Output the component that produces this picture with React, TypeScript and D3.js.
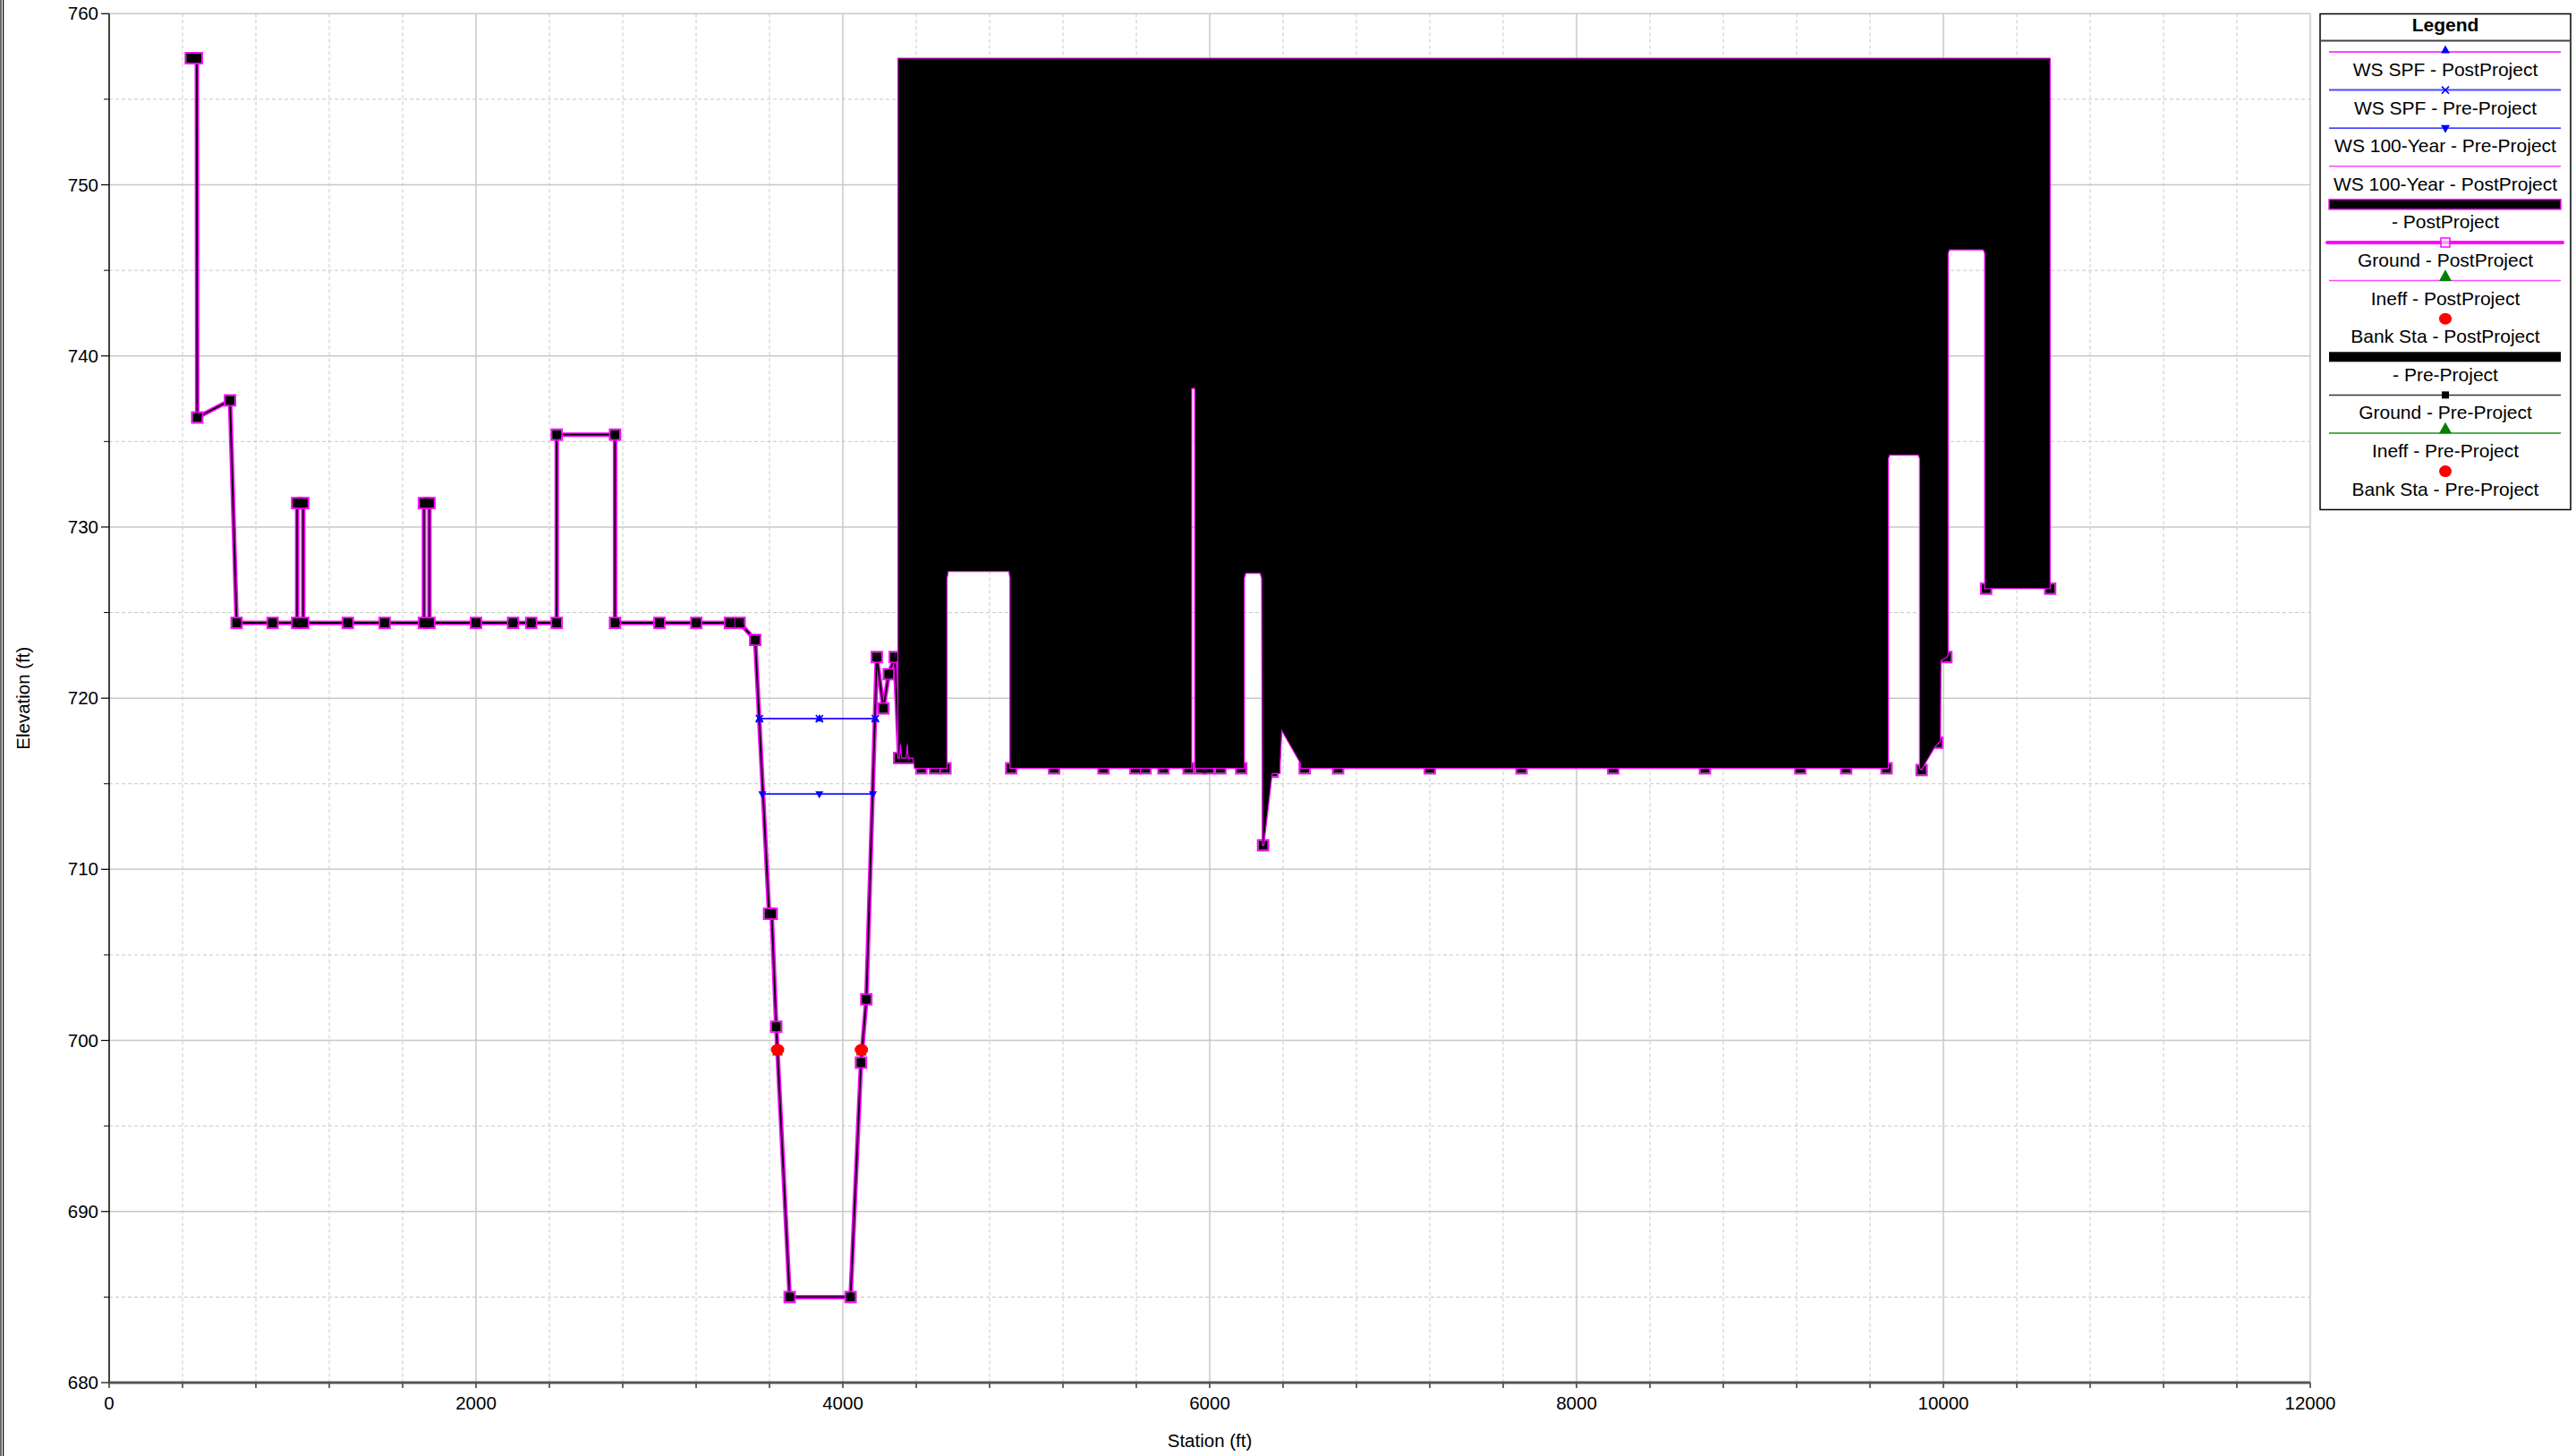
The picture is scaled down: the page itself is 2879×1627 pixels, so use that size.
import React from 'react';
import * as d3 from 'd3';

const W = 2879;
const H = 1627;

const stationTicks = [0, 2000, 4000, 6000, 8000, 10000, 12000];
const elevTicks = [680, 690, 700, 710, 720, 730, 740, 750, 760];

// Ground profile (shared by Pre- and Post-Project)
const groundSta = [445, 478, 480, 659, 695, 891, 1025, 1025, 1058, 1058, 1301, 1502, 1716, 1716, 1746, 1746, 2000, 2202, 2301, 2440, 2440, 2758, 2758, 3000, 3201, 3384, 3437, 3522, 3598, 3612, 3637, 3710, 4042, 4099, 4128, 4185, 4221, 4250, 4283, 4307, 4340, 4379, 4428, 4502, 4559, 4918, 5152, 5421, 5595, 5650, 5748, 5885, 5950, 5995, 6058, 6172, 6291, 6343, 6518, 6700, 7200, 7700, 8200, 8700, 9220, 9470, 9690, 9881, 9967, 10016, 10233, 10582];
const groundElev = [757.4, 757.4, 736.4, 737.4, 724.4, 724.4, 724.4, 731.4, 731.4, 724.4, 724.4, 724.4, 724.4, 731.4, 731.4, 724.4, 724.4, 724.4, 724.4, 724.4, 735.4, 735.4, 724.4, 724.4, 724.4, 724.4, 724.4, 723.4, 707.4, 707.4, 700.8, 685.0, 685.0, 698.7, 702.4, 722.4, 719.4, 721.4, 722.4, 716.5, 716.5, 716.5, 715.9, 715.9, 715.9, 715.9, 715.9, 715.9, 715.9, 715.9, 715.9, 715.9, 715.9, 715.9, 715.9, 715.9, 711.4, 715.7, 715.9, 715.9, 715.9, 715.9, 715.9, 715.9, 715.9, 715.9, 715.9, 715.8, 717.4, 722.4, 726.4, 726.4];

// Blocked area (black fill), bottom outline
const blockTop = 757.4;
const blockSta = [4300, 4308, 4314, 4320, 4345, 4351, 4357, 4382, 4390, 4568, 4568, 4575, 4905, 4911, 4911, 5902, 5902, 5918, 5918, 6189, 6189, 6197, 6275, 6283, 6287, 6295, 6341, 6384, 6384, 6393, 6494, 6494, 9700, 9700, 9707, 9863, 9870, 9870, 9881, 9902, 9951, 9984, 9987, 10020, 10026, 10026, 10033, 10217, 10225, 10225, 10582];
const blockElev = [716.5, 716.5, 717.3, 716.5, 716.5, 717.3, 716.5, 716.5, 715.9, 715.9, 727.0, 727.4, 727.4, 727.0, 715.9, 715.9, 738.1, 738.1, 715.9, 715.9, 727.0, 727.3, 727.3, 727.0, 711.4, 711.4, 715.6, 715.6, 716.1, 718.1, 716.2, 715.9, 715.9, 734.0, 734.2, 734.2, 734.0, 715.9, 715.8, 716.2, 717.1, 717.5, 722.2, 722.4, 722.6, 746.0, 746.2, 746.2, 746.0, 726.4, 726.4];

// Water surfaces
const wsSpfSta = [3545, 3872, 4177];
const wsSpfPostElev = [718.8, 718.8, 718.8];
const wsSpfPreElev = [718.8, 718.8, 718.8];
const ws100Sta = [3561, 3872, 4164];
const ws100PostElev = [714.4, 714.4, 714.4];
const ws100PreElev = [714.4, 714.4, 714.4];

// Bank stations / ineffective
const bankSta = [3644, 4101];
const bankElev = [699.45, 699.45];

const legendLabels = [
  'WS SPF - PostProject',
  'WS SPF - Pre-Project',
  'WS 100-Year - Pre-Project',
  'WS 100-Year - PostProject',
  '- PostProject',
  'Ground - PostProject',
  'Ineff - PostProject',
  'Bank Sta - PostProject',
  '- Pre-Project',
  'Ground - Pre-Project',
  'Ineff - Pre-Project',
  'Bank Sta - Pre-Project',
];

const FONT = 'Liberation Sans, Arial, Helvetica, sans-serif';
const MAG = '#ff00ff';
const MAG_L = '#ff44ff';
const BLUE = '#0000ff';

function triUp(cx: number, cy: number, s: number) {
  const h = s * 0.9;
  return `M${cx},${cy - h / 2}L${cx + s / 2},${cy + h / 2}L${cx - s / 2},${cy + h / 2}Z`;
}
function triDown(cx: number, cy: number, s: number) {
  const h = s * 0.9;
  return `M${cx},${cy + h / 2}L${cx + s / 2},${cy - h / 2}L${cx - s / 2},${cy - h / 2}Z`;
}

export default function App() {
  const x = d3.scaleLinear().domain([0, 12000]).range([122, 2582]);
  const y = d3.scaleLinear().domain([680, 760]).range([1545, 15.3]);
  const L = 122, R = 2582, T = 15.3, B = 1545;

  const line = d3.line<[number, number]>().x(d => x(d[0])).y(d => y(d[1]));
  const ground: [number, number][] = groundSta.map((s, i) => [s, groundElev[i]]);
  const wsSpfPost: [number, number][] = wsSpfSta.map((s, i) => [s, wsSpfPostElev[i]]);
  const wsSpfPre: [number, number][] = wsSpfSta.map((s, i) => [s, wsSpfPreElev[i]]);
  const ws100Post: [number, number][] = ws100Sta.map((s, i) => [s, ws100PostElev[i]]);
  const ws100Pre: [number, number][] = ws100Sta.map((s, i) => [s, ws100PreElev[i]]);

  const blockPts: [number, number][] = [
    [blockSta[0], blockTop],
    [blockSta[blockSta.length - 1], blockTop],
    ...blockSta.map((s, i) => [s, blockElev[i]] as [number, number]).reverse(),
  ];
  const blockPath = line(blockPts) + 'Z';

  const minorX = d3.range(0, 12001, 400).filter(v => v % 2000 !== 0);
  const minorY = d3.range(685, 760, 10);

  const lx1 = 2603, lx2 = 2862, lcx = 2733;

  const legendSymbol = (i: number, cy: number) => {
    switch (i) {
      case 0:
        return (<g><line x1={lx1} x2={lx2} y1={cy} y2={cy} stroke={MAG_L} strokeWidth={2} /><path d={triUp(lcx, cy - 3, 10)} fill={BLUE} /></g>);
      case 1:
        return (<g><line x1={lx1} x2={lx2} y1={cy} y2={cy} stroke="#4a4aff" strokeWidth={2} /><path d={`M${lcx - 4},${cy - 4}L${lcx + 4},${cy + 4}M${lcx - 4},${cy + 4}L${lcx + 4},${cy - 4}`} stroke={BLUE} strokeWidth={1.5} /></g>);
      case 2:
        return (<g><line x1={lx1} x2={lx2} y1={cy} y2={cy} stroke={BLUE} strokeWidth={1.2} /><path d={triDown(lcx, cy + 1, 10)} fill={BLUE} /></g>);
      case 3:
        return (<line x1={lx1} x2={lx2} y1={cy} y2={cy} stroke={MAG_L} strokeWidth={1.5} />);
      case 4:
        return (<rect x={lx1} y={cy - 5.5} width={lx2 - lx1} height={11} fill="#000" stroke={MAG} strokeWidth={1.5} />);
      case 5:
        return (<g><line x1={lx1 - 2} x2={lx2 + 2} y1={cy} y2={cy} stroke={MAG} strokeWidth={4} strokeLinecap="round" /><rect x={lcx - 5} y={cy - 5} width={10} height={10} fill="#fff" fillOpacity={0.6} stroke={MAG} strokeWidth={1.5} /></g>);
      case 6:
        return (<g><line x1={lx1} x2={lx2} y1={cy} y2={cy} stroke={MAG_L} strokeWidth={1.5} /><path d={triUp(lcx, cy - 6, 14)} fill="#008000" /></g>);
      case 7:
      case 11:
        return (<ellipse cx={lcx} cy={cy} rx={7} ry={6.5} fill="#ff0000" />);
      case 8:
        return (<rect x={lx1} y={cy - 5.5} width={lx2 - lx1} height={11} fill="#000" />);
      case 9:
        return (<g><line x1={lx1} x2={lx2} y1={cy} y2={cy} stroke="#333" strokeWidth={1.5} /><rect x={lcx - 4} y={cy - 4} width={8} height={8} fill="#000" /></g>);
      case 10:
        return (<g><line x1={lx1} x2={lx2} y1={cy} y2={cy} stroke="#4caf50" strokeWidth={2} /><path d={triUp(lcx, cy - 6, 14)} fill="#008000" /></g>);
      default:
        return null;
    }
  };

  return (
    <svg width={W} height={H} style={{ position: 'absolute', left: 0, top: 0, display: 'block', background: '#fff' }} fontFamily={FONT}>
      <defs>
        <clipPath id="plotClip"><rect x={L} y={T} width={R - L} height={B - T} /></clipPath>
        <clipPath id="groundClip"><rect x={L} y={T} width={x(4300) - L} height={B - T} /></clipPath>
      </defs>
      <rect x={0} y={0} width={W} height={H} fill="#fff" />
      {/* left frame */}
      <line x1={1} x2={1} y1={0} y2={H} stroke="#000" strokeWidth={1.2} />
      <line x1={3.6} x2={3.6} y1={0} y2={H} stroke="#000" strokeWidth={1.2} />

      {/* minor grid */}
      {minorX.map(v => (
        <line key={'mx' + v} x1={x(v)} x2={x(v)} y1={T} y2={B} stroke="#c8c8c8" strokeWidth={1} strokeDasharray="4,3" />
      ))}
      {minorY.map(v => (
        <line key={'my' + v} x1={L} x2={R} y1={y(v)} y2={y(v)} stroke="#c8c8c8" strokeWidth={1} strokeDasharray="4,3" />
      ))}
      {/* major grid */}
      {stationTicks.filter(v => v > 0).map(v => (
        <line key={'gx' + v} x1={x(v)} x2={x(v)} y1={T} y2={B} stroke="#c8c8c8" strokeWidth={1.5} />
      ))}
      {elevTicks.filter(v => v > 680).map(v => (
        <line key={'gy' + v} x1={L} x2={R} y1={y(v)} y2={y(v)} stroke="#c8c8c8" strokeWidth={1.5} />
      ))}

      {/* axes */}
      <line x1={L} x2={L} y1={T} y2={B} stroke="#000" strokeWidth={1.5} />
      {elevTicks.map(v => (
        <g key={'ty' + v}>
          <line x1={L - 9} x2={L} y1={y(v)} y2={y(v)} stroke="#000" strokeWidth={1.2} />
          <text x={L - 12} y={y(v) + 7} textAnchor="end" fontSize={20.5} fill="#000">{v}</text>
        </g>
      ))}
      {minorY.map(v => (
        <line key={'tmy' + v} x1={L - 6} x2={L} y1={y(v)} y2={y(v)} stroke="#000" strokeWidth={1} />
      ))}
      {d3.range(0, 12001, 400).map(v => (
        <line key={'tx' + v} x1={x(v)} x2={x(v)} y1={B} y2={B + 6} stroke="#000" strokeWidth={1.2} />
      ))}
      <line x1={L} x2={R} y1={B} y2={B} stroke="#555" strokeWidth={3} />
      {stationTicks.map(v => (
        <text key={'lx' + v} x={x(v)} y={B + 30} textAnchor="middle" fontSize={20.5} fill="#000">{v}</text>
      ))}
      <text x={(L + R) / 2} y={1617} textAnchor="middle" fontSize={20.5} fill="#000">Station (ft)</text>
      <text transform={`translate(33,${(T + B) / 2}) rotate(-90)`} textAnchor="middle" fontSize={20.5} fill="#000">Elevation (ft)</text>

      <g clipPath="url(#plotClip)">
        {/* ground lines */}
        <g clipPath="url(#groundClip)">
          <path d={line(ground) || ''} fill="none" stroke={MAG} strokeWidth={5} strokeLinejoin="round" />
          <path d={line(ground) || ''} fill="none" stroke="#000" strokeWidth={1.8} strokeLinejoin="round" />
        </g>
        {ground.map((d, i) => (
          <rect key={'gp' + i} x={x(d[0]) - 6} y={y(d[1]) - 6} width={12} height={12} fill="none" stroke={MAG} strokeWidth={1.8} />
        ))}
        {ground.map((d, i) => (
          <rect key={'gq' + i} x={x(d[0]) - 5} y={y(d[1]) - 5} width={10} height={10} fill="#000" />
        ))}

        {/* blocked areas */}
        <path d={blockPath} fill="#000" stroke="none" />
        <path d={blockPath} fill="#000" stroke={MAG} strokeWidth={1.2} strokeLinejoin="miter" />

        {/* water surfaces */}
        <path d={line(wsSpfPost) || ''} fill="none" stroke={MAG_L} strokeWidth={1.5} />
        <path d={line(ws100Post) || ''} fill="none" stroke={MAG_L} strokeWidth={1.5} />
        <path d={line(wsSpfPre) || ''} fill="none" stroke={BLUE} strokeWidth={1.5} />
        <path d={line(ws100Pre) || ''} fill="none" stroke={BLUE} strokeWidth={1.5} />
        {wsSpfPost.map((d, i) => (
          <path key={'sp' + i} d={triUp(x(d[0]), y(d[1]) - 1, 9)} fill={BLUE} />
        ))}
        {wsSpfPre.map((d, i) => (
          <path key={'sx' + i} d={`M${x(d[0]) - 4},${y(d[1]) - 4}L${x(d[0]) + 4},${y(d[1]) + 4}M${x(d[0]) - 4},${y(d[1]) + 4}L${x(d[0]) + 4},${y(d[1]) - 4}`} stroke={BLUE} strokeWidth={1.5} />
        ))}
        {ws100Pre.map((d, i) => (
          <path key={'hp' + i} d={triDown(x(d[0]), y(d[1]) + 1, 9)} fill={BLUE} />
        ))}

        {/* ineffective (under bank stations) */}
        {bankSta.map((s, i) => (
          <path key={'in' + i} d={triUp(x(s), y(bankElev[i]) + 1, 12)} fill="#008000" />
        ))}
        {bankSta.map((s, i) => (
          <ellipse key={'bk' + i} cx={x(s)} cy={y(bankElev[i])} rx={7.5} ry={6.5} fill="#ff0000" />
        ))}
      </g>

      {/* legend */}
      <g>
        <rect x={2593} y={15.5} width={280} height={554} fill="#fff" stroke="#000" strokeWidth={1.5} />
        <text x={lcx} y={35} textAnchor="middle" fontSize={21} fontWeight="bold" fill="#000">Legend</text>
        <line x1={2593} x2={2873} y1={45.5} y2={45.5} stroke="#444" strokeWidth={2} />
        {legendLabels.map((lab, i) => {
          const cy = 58 + i * 42.6;
          return (
            <g key={'lg' + i}>
              {legendSymbol(i, cy)}
              <text x={lcx} y={cy + 27} textAnchor="middle" fontSize={21} fill="#000">{lab}</text>
            </g>
          );
        })}
      </g>
    </svg>
  );
}
